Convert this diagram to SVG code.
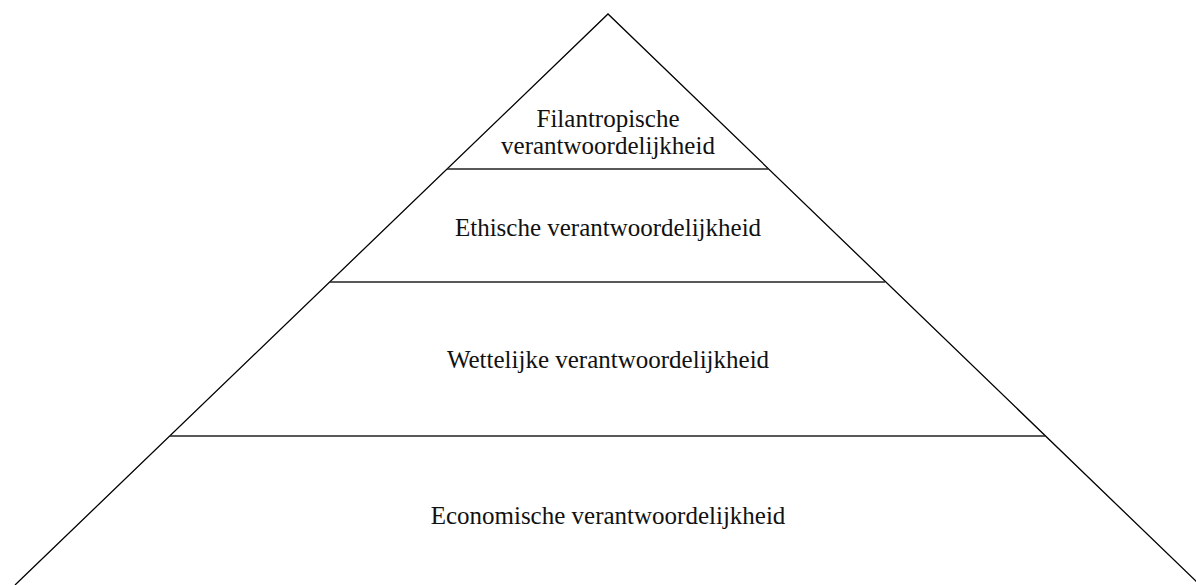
<svg xmlns="http://www.w3.org/2000/svg" width="1196" height="585" viewBox="0 0 1196 585">
<style>
.o{fill:none;stroke:#000;stroke-width:1.3}
.d{stroke:#222;stroke-width:1.3}
text{font-family:"Liberation Serif","Times New Roman",serif;font-size:25px;fill:#111;text-anchor:middle}
</style>
<rect width="1196" height="585" fill="#fff"/>
<g id="pyramid">
<path class="o" d="M15,585 L608,14 L1200,585"/>
</g>
<g id="connectors">
<line class="d" x1="447" y1="169" x2="768" y2="169"/>
<line class="d" x1="330" y1="282" x2="885" y2="282"/>
<line class="d" x1="170" y1="436" x2="1045" y2="436"/>
</g>
<g id="level1"><text x="608" y="127">Filantropische</text><text x="608" y="154">verantwoordelijkheid</text></g>
<g id="level2"><text x="608" y="236">Ethische verantwoordelijkheid</text></g>
<g id="level3"><text x="608" y="368">Wettelijke verantwoordelijkheid</text></g>
<g id="level4"><text x="608" y="524">Economische verantwoordelijkheid</text></g>
</svg>
